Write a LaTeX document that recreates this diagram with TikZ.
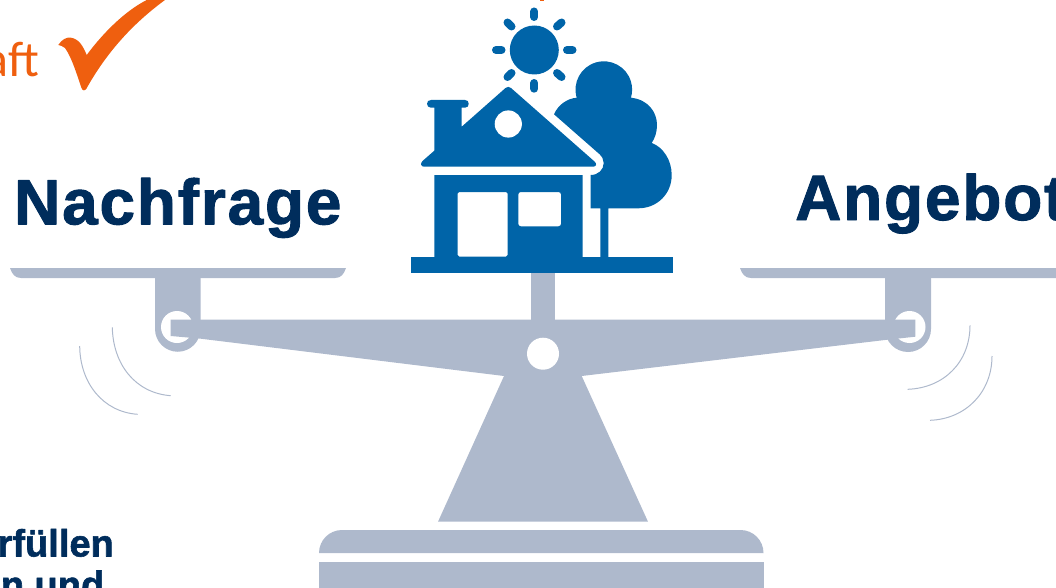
\documentclass[tikz,border=0pt]{standalone}
\usepackage{fontspec}
\setmainfont{Liberation Sans}
\newfontfamily\carlitofont{Carlito}
\newfontfamily\wordfont[BoldFont={Liberation Sans Bold},BoldFeatures={FakeBold=1.5,LetterSpace=2.8}]{Liberation Sans}
\newfontfamily\subfont[BoldFont={Liberation Sans Bold},BoldFeatures={FakeBold=1.5}]{Liberation Sans}
\definecolor{scalegray}{HTML}{AEB9CC}
\definecolor{houseblue}{HTML}{0064A8}
\definecolor{navytext}{HTML}{002D5C}
\definecolor{tickorange}{HTML}{EF5F0F}
\tikzset{
  scalepart/.style={fill=scalegray,draw=none},
  housepart/.style={fill=houseblue,draw=none},
  hole/.style={fill=white,draw=none},
  ray/.style={draw=houseblue,line width=8pt,line cap=round},
  swing/.style={draw=scalegray,line width=1pt},
  bigword/.style={font=\wordfont\fontsize{64}{64}\selectfont\bfseries\special{pdf:code 1 j},text=navytext,inner sep=0pt,anchor=base west},
  smallword/.style={font=\subfont\fontsize{38}{38}\selectfont\bfseries\special{pdf:code 1 j},text=navytext,inner sep=0pt,anchor=base east}
}
\begin{document}
\begin{tikzpicture}[x=1pt,y=-1pt]
\useasboundingbox (0,0) rectangle (1056,588);
\clip (0,0) rectangle (1056,588);
% orange tick and cropped text
\node[font=\carlitofont\fontsize{50}{50}\selectfont,text=tickorange,inner sep=0pt,anchor=base east] (aft) at (39,77) {aft};
\fill[tickorange] (58.3,45) .. controls (62,39) and (67,37) .. (71,37.7) .. controls (79,39) and (83,46) .. (86.7,55)
  .. controls (103,33) and (125,11) .. (146.7,0) -- (165,0) .. controls (135,22) and (108,50) .. (86.5,88.5)
  .. controls (85,91) and (82.5,91) .. (81.5,88) .. controls (77,75) and (72,58) .. (65,48) .. controls (63,46) and (60,45.5) .. (58.3,45) -- cycle;
\fill[tickorange] (540,0) rectangle (544,1);
% labels
\node[bigword] (nachfrage) at (14,224.3) {Nachfrage};
\node[bigword] (angebot) at (795,220) {Angebot};
\node[smallword] (erf) at (114,556.5) {rfüllen};
\node[smallword] (und) at (104.5,598) {en und};
% pans
\fill[scalepart] (10,268) -- (346,268) .. controls (344,274) and (341,278) .. (335,278) -- (21,278) .. controls (15,278) and (12,274) .. (10,268) -- cycle;
\fill[scalepart] (740,268) -- (1056,268) -- (1056,278) -- (751,278) .. controls (745,278) and (742,274) .. (740,268) -- cycle;
% hangers
\fill[scalepart] (155,275) -- (200.5,275) -- (200.5,329) arc[start angle=0,end angle=-180,x radius=22.75,y radius=-22.75] -- cycle;
\fill[scalepart] (885,275) -- (931,275) -- (931,329) arc[start angle=0,end angle=-180,x radius=23,y radius=-23] -- cycle;
\fill[hole] (177,327) circle[radius=16];
\fill[hole] (909.5,327) circle[radius=16];
% post, beam, stand
\fill[scalepart] (531,270) rectangle (555,322);
\fill[scalepart] (170.7,319.5) -- (915.3,319.5) -- (915.3,336.7) -- (885,340) -- (581.7,376) -- (648,521.7) -- (438,521.7) -- (504,376) -- (199,338.5) -- (170.7,336) -- cycle;
\fill[hole] (543,353.7) circle[radius=16];
% base
\fill[scalepart] (319,553) arc[start angle=180,end angle=90,x radius=23,y radius=-23] -- (740.5,530) arc[start angle=90,end angle=0,x radius=23,y radius=-23] -- cycle;
\fill[scalepart] (319,561.7) rectangle (763.5,590);
% swing marks
\draw[swing] (112.3,327.3) .. controls (113,364) and (135,393) .. (170.7,395.7);
\draw[swing] (79.7,346) .. controls (80,383) and (103,412) .. (137.7,414.3);
\draw[swing] (970,325.3) .. controls (970,362) and (944,388) .. (907.7,389.3);
\draw[swing] (992,356) .. controls (992,392) and (966,419) .. (930,420.3);
% ground
\fill[housepart] (411,256.5) rectangle (673,273);
% tree
\fill[housepart] (554,114.3) .. controls (558,105) and (567,98.5) .. (576.7,97.7)
  arc[start angle=196.6,end angle=-16.6,radius=28.3,y radius=-28.3] 
  .. controls (648,99.5) and (657,112) .. (657,125) .. controls (657,132) and (655,138) .. (651.7,143)
  .. controls (663,147) and (671.7,160) .. (671.7,175) .. controls (671.7,194) and (657,208.3) .. (638.3,208.3)
  -- (608.3,208.3) -- (608.3,258) -- (600.3,258) -- (600.3,208.3) -- (590.7,208.3) -- (590.7,175)
  .. controls (598,175) and (603.7,170) .. (603.7,163) .. controls (603.7,159.5) and (602,156.5) .. (599.3,154) -- cycle;
% house body
\fill[housepart,even odd rule] (434.3,175) rectangle (582.7,258)
  [rounded corners=1.5pt] (457.7,192) rectangle (507.7,256.5)
  [rounded corners=2.5pt] (518.3,192) rectangle (561,226.3);
% roof with chimney
\fill[housepart] (427,103.8) .. controls (427,101.5) and (428.5,100) .. (431,100) -- (465,100) .. controls (467.5,100) and (468.7,101.5) .. (468.7,103.8) .. controls (468.7,106) and (467.5,107.7) .. (465,107.7) -- (461.7,107.7) -- (461.7,126.7)
  -- (505.5,88) .. controls (507,86.5) and (509.5,86.5) .. (511,88) -- (594.5,161.5) .. controls (597.5,164) and (596,166.7) .. (593,166.7)
  -- (424,166.7) .. controls (421,166.7) and (420,163.5) .. (422.5,161) -- (434.3,150.7) -- (434.3,107.7) -- (431,107.7) .. controls (428.5,107.7) and (427,106) .. (427,103.8) -- cycle;
\fill[hole] (508.3,124) circle[radius=13.6];
% sun
\fill[housepart] (534.3,50) circle[radius=24.5];
\draw[ray] (534.3,11.5) -- (534.3,17);
\draw[ray] (534.3,83) -- (534.3,88.7);
\draw[ray] (496,50) -- (501.5,50);
\draw[ray] (567,50) -- (572.5,50);
\draw[ray] (507.5,22.5) -- (511.5,26.5);
\draw[ray] (557,26.5) -- (561.5,22.5);
\draw[ray] (507.5,77) -- (511.5,73);
\draw[ray] (557,73) -- (561.5,77);
\end{tikzpicture}
\end{document}
